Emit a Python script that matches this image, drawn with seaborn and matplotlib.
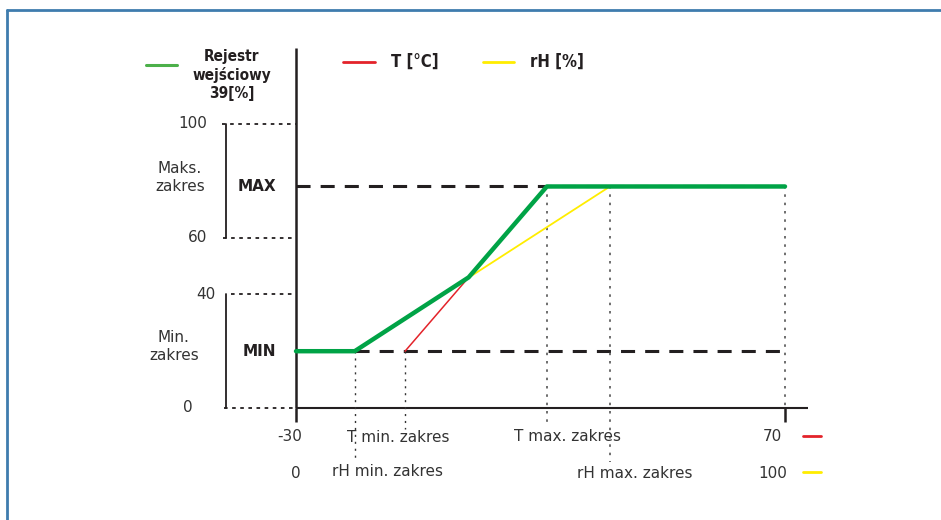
import numpy as np
import matplotlib
matplotlib.use("Agg")
import matplotlib.pyplot as plt
import seaborn as sns

# zakresy osi
t_range = [-30, 70]       # T [°C]
rh_range = [0, 100]       # rH [%]
y_ticks = [0, 40, 60, 100]
y_tick_labels = ["0", "40", "60", "100"]

# progi
out_min, out_max = 20, 78
t_min, t_max = -7.7, 21.3
rh_min, rh_max = 12, 64.2

# linie sygnalow
t_x = [t_min, t_max]
t_y = [out_min, out_max]
rh_x = [rh_min, rh_max]
rh_y = [out_min, out_max]
reg_x = [-30, -18, 5.3, 21.3, 70]
reg_y = [20, 20, 46, 78, 78]

GREEN = "#00a346"
RED = "#e3232a"
YELLOW = "#ffed00"
DARK = "#231f20"

sns.set_theme(style="white")
plt.rcParams["font.family"] = ["DejaVu Sans"]


def rh2t(v):
    # os rH narysowana na tej samej skali co T
    return np.interp(v, rh_range, t_range)


fig = plt.figure(figsize=(9.41, 5.20), dpi=100)
ax = fig.add_axes([296 / 941, (520 - 408) / 520, 489 / 941, 284 / 520])
ax.set_xlim(t_range)
ax.set_ylim(0, 100)
ax.axis("off")

# ramka
fig.add_artist(plt.Line2D([6.5 / 941, 6.5 / 941], [0, 1 - 10 / 520], color="#3f7cae", lw=2,
                          transform=fig.transFigure))
fig.add_artist(plt.Line2D([6.5 / 941, 1], [1 - 10 / 520, 1 - 10 / 520], color="#3f7cae", lw=2,
                          transform=fig.transFigure))

# osie
ax.plot([-30, -30], [0, 126.8], color=DARK, lw=1.8, clip_on=False, solid_capstyle="butt")
ax.plot([-30, 74.7], [0, 0], color=DARK, lw=1.5, clip_on=False, solid_capstyle="butt")
for xt in t_range:
    ax.plot([xt, xt], [0, -4.8], color=DARK, lw=1.8, clip_on=False, solid_capstyle="butt")

# linie MIN / MAX
dash = (0, (4.6, 3.3))
ax.plot([-30, 70], [out_max, out_max], color=DARK, lw=2.2, ls=dash, zorder=1, clip_on=False)
ax.plot([rh2t(rh_min), 70], [out_min, out_min], color=DARK, lw=2.2, ls=dash, zorder=1, clip_on=False)

# pionowe kropkowane
dot = (0, (1.5, 3.5))
ax.plot([rh2t(rh_min)] * 2, [out_min, -19], color="#333333", lw=1, ls=dot, clip_on=False)
ax.plot([t_min] * 2, [out_min, -7.4], color="#333333", lw=1, ls=dot, clip_on=False)
ax.plot([t_max] * 2, [out_max, -6.3], color="#555555", lw=1.2, ls=dot, clip_on=False)
ax.plot([rh2t(rh_max)] * 2, [out_max, -19], color="#555555", lw=1.2, ls=dot, clip_on=False)
ax.plot([70, 70], [out_max, 0], color="#555555", lw=1.2, ls=dot, clip_on=False)

# sygnaly
sns.lineplot(x=t_x, y=t_y, ax=ax, color=RED, lw=1.1, zorder=2)
sns.lineplot(x=rh2t(rh_x), y=rh_y, ax=ax, color=YELLOW, lw=1.3, zorder=3)
sns.lineplot(x=reg_x, y=reg_y, ax=ax, color=GREEN, lw=3.2, zorder=4)
for ln in ax.lines:
    ln.set_clip_on(False)

# os Y: etykiety, kropki i nawiasy
label_x = {0: -51.1, 40: -46.4, 60: -48.2, 100: -48.2}
start_x = {0: -44.7, 40: -43.2, 60: -45.0, 100: -45.1}
for v, lab in zip(y_ticks, y_tick_labels):
    ax.text(label_x[v], v, lab, ha="right", va="center", fontsize=11, color="#333333")
    ax.plot([start_x[v], -30], [v, v], color=DARK, lw=1.3, ls=(0, (2, 2.5)), clip_on=False)
ax.plot([-44.3, -44.3], [60, 100], color=DARK, lw=1.3, clip_on=False)
ax.plot([-44.3, -44.3], [0, 40], color=DARK, lw=1.3, clip_on=False)
ax.text(-53.7, 81.2, "Maks.\nzakres", ha="center", va="center", fontsize=11, color="#333333",
        linespacing=1.25)
ax.text(-55.0, 21.8, "Min.\nzakres", ha="center", va="center", fontsize=11, color="#333333",
        linespacing=1.25)
ax.text(-37.9, out_max, "MAX", ha="center", va="center", fontsize=11, fontweight="bold", color=DARK)
ax.text(-37.5, out_min, "MIN", ha="center", va="center", fontsize=11, fontweight="bold", color=DARK)

# os X: T i rH
row1, row2 = -10.0, -23.0
ax.text(-31.2, row1, "-30", ha="center", va="center", fontsize=11, color="#333333")
ax.text(-9.1, row1 - 0.5, "T min. zakres", ha="center", va="center", fontsize=11, color="#333333")
ax.text(25.6, row1, "T max. zakres", ha="center", va="center", fontsize=11, color="#333333")
ax.text(67.5, row1, "70", ha="center", va="center", fontsize=11, color="#333333")
ax.plot([73.7, 77.4], [row1 + 0.3, row1 + 0.3], color=RED, lw=2, clip_on=False)
ax.text(rh2t(-0.6), row2, "0", ha="center", va="center", fontsize=11, color="#333333")
ax.text(rh2t(18.8), row2 + 0.6, "rH min. zakres", ha="center", va="center", fontsize=11, color="#333333")
ax.text(rh2t(69.3), row2, "rH max. zakres", ha="center", va="center", fontsize=11, color="#333333")
ax.text(rh2t(97.5), row2, "100", ha="center", va="center", fontsize=11, color="#333333")
ax.plot([73.7, 77.4], [row2 + 0.3, row2 + 0.3], color=YELLOW, lw=2, clip_on=False)

# legenda
ax.plot([-60.7, -54.4], [120.8, 120.8], color="#4cb04a", lw=2.2, clip_on=False)
ax.text(-43.1, 117.3, "Rejestr\nwejściowy\n39[%]", ha="center", va="center", fontsize=11,
        fontweight="bold", color=DARK, linespacing=1.25, fontstretch="condensed")
ax.plot([-20.3, -13.8], [122, 122], color=RED, lw=2, clip_on=False)
ax.text(-10.6, 122, "T [°C]", ha="left", va="center", fontsize=12, fontweight="bold", color=DARK,
        fontstretch="condensed")
ax.plot([8.2, 14.6], [122, 122], color=YELLOW, lw=2, clip_on=False)
ax.text(17.8, 122, "rH [%]", ha="left", va="center", fontsize=12, fontweight="bold", color=DARK,
        fontstretch="condensed")

fig.savefig("out.png", dpi=100)
